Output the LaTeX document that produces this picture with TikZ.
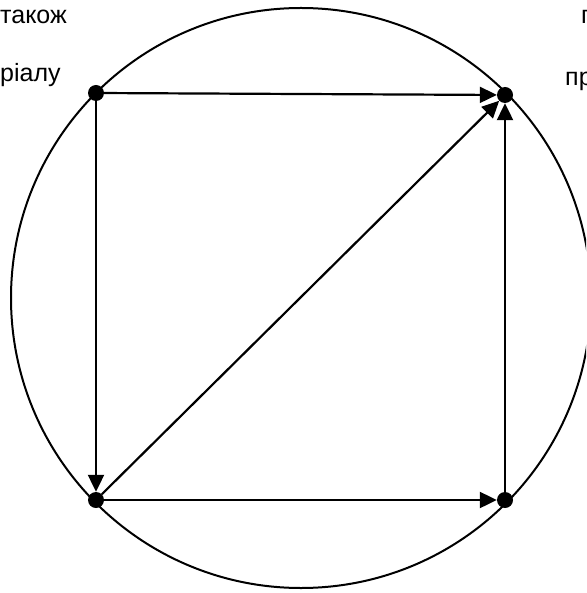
\documentclass[tikz,border=0pt]{standalone}
\usepackage{fontspec}
\setmainfont{Liberation Sans}
\usetikzlibrary{arrows.meta}
\begin{document}
\begin{tikzpicture}[x=1pt,y=-1pt,
  vdot/.style={circle,fill=black,inner sep=0pt,minimum size=16pt},
  edge/.style={line width=2.2pt,-{Triangle[length=17pt,width=16pt]}},
  lbl/.style={anchor=base west,inner sep=0pt,font=\fontsize{25}{30}\selectfont}]
\useasboundingbox (0,0) rectangle (586,593);
\clip (0,0) rectangle (586,593);
\node[circle,draw,line width=2pt,minimum size=580pt,inner sep=0pt] (ring) at (301,298) {};
\node[vdot] (a) at (96,93) {};
\node[vdot] (b) at (505,95) {};
\node[vdot] (c) at (96,500) {};
\node[vdot] (d) at (505,500) {};
\draw[edge] (a) -- (b);
\draw[edge] (a) -- (c);
\draw[edge] (c) -- (b);
\draw[edge] (c) -- (d);
\draw[edge] (d) -- (b);
\node[lbl] (t1) at (0,24) {також};
\node[lbl] (t2) at (0,82) {ріалу};
\node[lbl] (t3) at (581,24) {п};
\node[lbl] (t4) at (565,86) {пр};
\end{tikzpicture}
\end{document}
